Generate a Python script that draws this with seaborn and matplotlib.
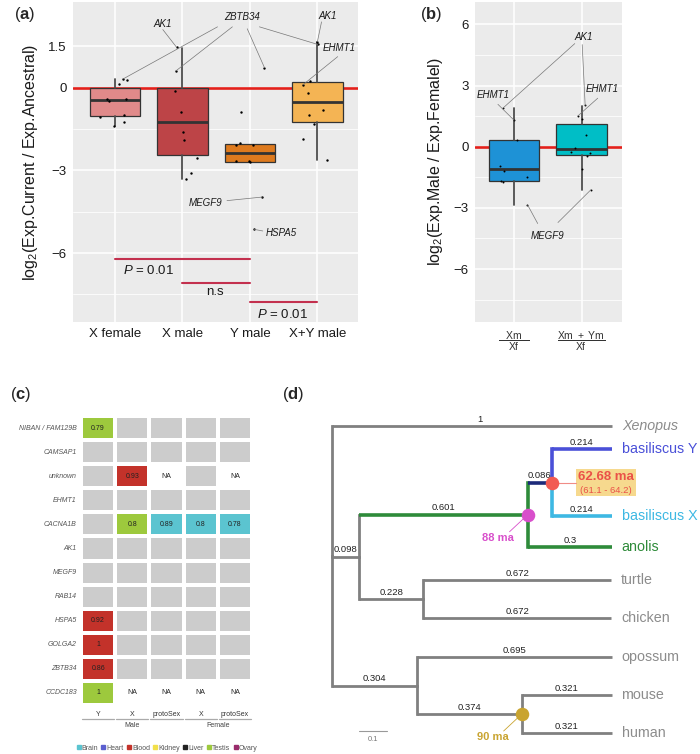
import matplotlib
matplotlib.use("Agg")
import matplotlib.pyplot as plt
from matplotlib.colors import ListedColormap
from matplotlib.lines import Line2D
from matplotlib.patches import Rectangle
import numpy as np
import pandas as pd
import seaborn as sns

# ---------------- panel (a) data ----------------
groups_a = ["X female", "X male", "Y male", "X+Y male"]
colors_a = ["#E08A8A", "#BD4447", "#DE7A1E", "#F4B454"]
pts_xf = [0.12, 0.29, 0.31, -0.43, -0.48, -0.43, -1.07, -0.99, -1.26, -1.41]
pts_xm = [1.46, 0.60, -0.14, -0.89, -1.62, -1.92, -2.57, -3.09, -3.33]
pts_ym = [0.72, -0.87, -2.01, -2.08, -2.08, -2.65, -2.70, -2.68, -3.97, -5.14]
pts_xym = [1.56, 1.66, 0.22, 0.10, -0.20, -0.82, -1.01, -1.32, -1.85, -2.61]
# box stats: whisker low, q1, median, q3, whisker high
box_a = [[-1.41, -1.05, -0.45, -0.03, 0.31],
         [-3.33, -2.43, -1.26, -0.02, 1.44],
         [-2.70, -2.70, -2.37, -2.03, -2.03],
         [-2.61, -1.25, -0.51, 0.19, 1.66]]
# significance bars: (from group, to group, height, text)
sig_a = [(0, 2, -6.2, "$\\mathit{P}$ = 0.01"),
         (1, 2, -7.08, "n.s"),
         (2, 3, -7.79, "$\\mathit{P}$ = 0.01")]

# ---------------- panel (b) data ----------------
groups_b = ["Xm/Xf", "Xm+Ym/Xf"]
ticklabels_b = [r"$\dfrac{\;\;\;\mathrm{Xm}\;\;\;}{\mathrm{Xf}}$",
                r"$\dfrac{\mathrm{Xm\ +\ Ym}}{\mathrm{Xf}}$"]
colors_b = ["#1E92D6", "#00BEC6"]
pts_b1 = [1.90, 1.30, 0.31, -0.94, -1.19, -1.50, -1.67, -1.75, -2.84]
pts_b2 = [2.03, 1.50, 1.38, 0.56, -0.05, -0.24, -0.32, -0.45, -1.10, -2.11]
box_b = [[-2.84, -1.67, -1.07, 0.31, 1.90],
         [-2.13, -0.40, -0.13, 1.12, 2.02]]

# ---------------- panel (c) data ----------------
genes_c = ["NIBAN / FAM129B", "CAMSAP1", "unknown", "EHMT1", "CACNA1B", "AK1",
           "MEGF9", "RAB14", "HSPA5", "GOLGA2", "ZBTB34", "CCDC183"]
cols_c = ["Y", "X", "protoSex", "X", "protoSex"]
tissue_c = [["Testis", "", "", "", ""],
            ["", "", "", "", ""],
            ["", "Blood", "NA", "", "NA"],
            ["", "", "", "", ""],
            ["", "Testis", "Brain", "Brain", "Brain"],
            ["", "", "", "", ""],
            ["", "", "", "", ""],
            ["", "", "", "", ""],
            ["Blood", "", "", "", ""],
            ["Blood", "", "", "", ""],
            ["Blood", "", "", "", ""],
            ["Testis", "NA", "NA", "NA", "NA"]]
value_c = [["0.79", "", "", "", ""],
           ["", "", "", "", ""],
           ["", "0.93", "NA", "", "NA"],
           ["", "", "", "", ""],
           ["", "0.8", "0.89", "0.8", "0.78"],
           ["", "", "", "", ""],
           ["", "", "", "", ""],
           ["", "", "", "", ""],
           ["0.92", "", "", "", ""],
           ["1", "", "", "", ""],
           ["0.86", "", "", "", ""],
           ["1", "NA", "NA", "NA", "NA"]]
legend_tissues = ["Brain", "Heart", "Blood", "Kidney", "Liver", "Testis", "Ovary"]
legend_colors = ["#5BC4D0", "#5B5FCF", "#C3322A", "#F2E04A", "#222222", "#9DC93D", "#9A2C6C"]

# ---------------- panel (d) data ----------------
tree_edges = [("root", "Xenopus", 1.0), ("root", "sauropsids", 0.098),
              ("root", "mammals", 0.304),
              ("sauropsids", "squamates", 0.601), ("sauropsids", "archelosaurs", 0.228),
              ("squamates", "basiliscus", 0.086), ("squamates", "anolis", 0.3),
              ("basiliscus", "basiliscus Y", 0.214), ("basiliscus", "basiliscus X", 0.214),
              ("archelosaurs", "turtle", 0.672), ("archelosaurs", "chicken", 0.672),
              ("mammals", "opossum", 0.695), ("mammals", "eutherians", 0.374),
              ("eutherians", "mouse", 0.321), ("eutherians", "human", 0.321)]
tips = ["Xenopus", "basiliscus Y", "basiliscus X", "anolis", "turtle",
        "chicken", "opossum", "mouse", "human"]
node_dates = {"basiliscus": ("62.68 ma", "(61.1 - 64.2)", "#F25B52"),
              "squamates": ("88 ma", "", "#D84FCB"),
              "eutherians": ("90 ma", "", "#C9A430")}

# ---------------- style ----------------
sns.set_style("white")
plt.rcParams["font.family"] = ["Liberation Sans", "DejaVu Sans"]
plt.rcParams["mathtext.fontset"] = "custom"
plt.rcParams["mathtext.rm"] = "Liberation Sans"
plt.rcParams["mathtext.it"] = "Liberation Sans:italic"
plt.rcParams["mathtext.bf"] = "Liberation Sans:bold"

W, H = 700, 754
fig = plt.figure(figsize=(7, 7.54), dpi=100)


def px_axes(x0, y0, x1, y1):
    return fig.add_axes([x0 / W, 1 - y1 / H, (x1 - x0) / W, (y1 - y0) / H])


def gg_axes(ax, major, minor):
    ax.set_facecolor("#EBEBEB")
    for s in ax.spines.values():
        s.set_visible(False)
    ax.set_yticks(major)
    ax.set_yticks(minor, minor=True)
    ax.grid(True, which="major", color="white", lw=1.1)
    ax.grid(True, which="minor", axis="y", color="white", lw=0.55)
    ax.set_axisbelow(True)
    ax.tick_params(which="major", length=2.5, width=0.7, color="#333333",
                   labelcolor="#1a1a1a", labelsize=9.5, pad=2)
    ax.tick_params(which="minor", length=0)


def draw_boxes(ax, stats, colors):
    bx = [dict(whislo=s[0], q1=s[1], med=s[2], q3=s[3], whishi=s[4]) for s in stats]
    bp = ax.bxp(bx, positions=range(len(bx)), widths=0.75, patch_artist=True,
                showfliers=False, showcaps=False,
                boxprops=dict(edgecolor="#333333", lw=0.9),
                medianprops=dict(color="#333333", lw=2.0),
                whiskerprops=dict(color="#4d4d4d", lw=1.3), zorder=2)
    for patch, c in zip(bp["boxes"], colors):
        patch.set_facecolor(c)


def points_frame(groups, series, seed):
    rng = np.random.default_rng(seed)
    rows = []
    for i, (g, vals) in enumerate(zip(groups, series)):
        for k, v in enumerate(vals):
            rows.append(dict(group=g, idx=k, value=v, x=i + rng.uniform(-0.22, 0.22)))
    return pd.DataFrame(rows)


def gene_labels(ax, df, labels):
    for text, tx, ty, links in labels:
        ax.text(tx, ty, text, style="italic", fontsize=7, ha="center", va="center",
                color="#1a1a1a", zorder=5)
        for grp, idx, sx, sy in links:
            p = df[(df.group == grp) & (df.idx == idx)].iloc[0]
            ax.plot([sx, p.x], [sy, p.value], color="#777777", lw=0.5, zorder=4)


# ---------------- panel (a) ----------------
ax_a = px_axes(73, 2, 358, 322)
gg_axes(ax_a, [1.5, 0, -3, -6], [-1.5, -4.5, -7.5])
ax_a.axhline(0, color="#E3201B", lw=1.9, zorder=1.5)
draw_boxes(ax_a, box_a, colors_a)
df_a = points_frame(groups_a, [pts_xf, pts_xm, pts_ym, pts_xym], seed=7)
sns.scatterplot(data=df_a, x="x", y="value", color="black", s=3, linewidth=0,
                ax=ax_a, legend=False, zorder=3)
for g0, g1, h, txt in sig_a:
    ax_a.plot([g0, g1], [h, h], color="#C3304E", lw=1.5)
for (g0, g1, h, txt), (tx, ha, dy) in zip(sig_a, [(0.12, "left", -0.42),
                                                   (1.48, "center", -0.32),
                                                   (2.11, "left", -0.42)]):
    ax_a.text(tx, h + dy, txt, ha=ha, va="center", fontsize=9.5, color="#1a1a1a")
gene_labels(ax_a, df_a, [
    ("AK1", 0.71, 2.31, [("X male", 0, 0.71, 2.1)]),
    ("ZBTB34", 1.89, 2.56, [("X female", 2, 1.52, 2.2), ("X male", 1, 1.74, 2.2),
                            ("Y male", 0, 1.96, 2.13), ("X+Y male", 0, 2.14, 2.2)]),
    ("AK1", 3.15, 2.6, [("X+Y male", 1, 3.06, 2.38)]),
    ("EHMT1", 3.32, 1.44, [("X+Y male", 3, 3.3, 1.12)]),
    ("MEGF9", 1.34, -4.19, [("Y male", 8, 1.66, -4.1)]),
    ("HSPA5", 2.47, -5.27, [("Y male", 9, 2.19, -5.2)]),
])
ax_a.set_xlim(-0.62, 3.6)
ax_a.set_ylim(-8.5, 3.1)
ax_a.set_xticks(range(4))
ax_a.set_xticklabels(groups_a)
ax_a.set_yticklabels(["1.5", "0", "\u22123", "\u22126"])
ax_a.set_xlabel("")
ax_a.set_ylabel("log$_2$(Exp.Current / Exp.Ancestral)", fontsize=11.5, labelpad=6,
                color="#1a1a1a")

# ---------------- panel (b) ----------------
ax_b = px_axes(475, 2, 622, 322)
gg_axes(ax_b, [6, 3, 0, -3, -6], [4.5, 1.5, -1.5, -4.5, -7.5])
ax_b.axhline(0, color="#E3201B", lw=1.9, zorder=1.5)
draw_boxes(ax_b, box_b, colors_b)
df_b = points_frame(groups_b, [pts_b1, pts_b2], seed=11)
sns.scatterplot(data=df_b, x="x", y="value", color="black", s=2, linewidth=0,
                ax=ax_b, legend=False, zorder=3)
gene_labels(ax_b, df_b, [
    ("EHMT1", -0.31, 2.52, [("Xm/Xf", 1, -0.24, 2.08)]),
    ("AK1", 1.03, 5.4, [("Xm/Xf", 0, 0.9, 5.06), ("Xm+Ym/Xf", 0, 1.01, 5.01)]),
    ("EHMT1", 1.31, 2.81, [("Xm+Ym/Xf", 1, 1.24, 2.38)]),
    ("MEGF9", 0.5, -4.36, [("Xm/Xf", 8, 0.35, -3.77), ("Xm+Ym/Xf", 9, 0.65, -3.72)]),
])
ax_b.set_xlim(-0.58, 1.6)
ax_b.set_ylim(-8.6, 7.1)
ax_b.set_xticks(range(2))
ax_b.set_xticklabels(ticklabels_b, fontsize=7.5, color="#333333")
ax_b.tick_params(axis="x", pad=3)
ax_b.set_yticklabels(["6", "3", "0", "\u22123", "\u22126"])
ax_b.set_xlabel("")
ax_b.set_ylabel("log$_2$(Exp.Male / Exp.Femalel)", fontsize=11.5, labelpad=6,
                color="#1a1a1a")

# ---------------- panel (c) ----------------
ax_c = px_axes(81, 416, 252, 705)
code_of = {"": 0, "Brain": 1, "Blood": 2, "Testis": 3, "NA": 4}
cmap_c = ListedColormap(["#CCCCCC", "#5BC4D0", "#C3322A", "#9DC93D", "white"])
codes = pd.DataFrame([[code_of[t] for t in row] for row in tissue_c],
                     index=genes_c, columns=range(len(cols_c)))
sns.heatmap(codes, cmap=cmap_c, vmin=-0.5, vmax=4.5, annot=np.array(value_c),
            fmt="", linewidths=1.6, linecolor="white", cbar=False, ax=ax_c,
            annot_kws=dict(size=5, color="#222222"))
ax_c.set_xticklabels(cols_c, rotation=0, fontsize=5, color="#333333")
ax_c.set_yticklabels(genes_c, rotation=0, fontsize=5, color="#555555", style="italic")
ax_c.tick_params(axis="both", length=0)
ax_c.tick_params(axis="x", pad=4)
ax_c.tick_params(axis="y", pad=3)
ax_c.set_xlabel("")
ax_c.set_ylabel("")
for j in range(len(cols_c)):
    ax_c.plot([j + 0.03, j + 0.97], [12.58, 12.58], color="#AAAAAA", lw=0.9,
              clip_on=False)
ax_c.text(1.5, 12.85, "Male", ha="center", va="center", fontsize=5, color="#444444")
ax_c.text(4.0, 12.85, "Female", ha="center", va="center", fontsize=5, color="#444444")
handles = [Line2D([], [], marker="s", ls="", color=c, markersize=2.6, label=t)
           for t, c in zip(legend_tissues, legend_colors)]
leg = fig.legend(handles=handles, loc="center", bbox_to_anchor=(167 / W, 1 - 748 / H),
                 ncol=7, frameon=False, fontsize=5, handletextpad=0.15,
                 columnspacing=0.45, handlelength=0.6, borderpad=0)
for t in leg.get_texts():
    t.set_color("#555555")

# ---------------- panel (d) ----------------
ax_d = px_axes(320, 400, 700, 754)
ax_d.set_xlim(-12 / 280, 368 / 280)
ax_d.set_ylim(754, 400)
ax_d.axis("off")
tip_rows = [426, 449, 516, 547, 580, 618, 657, 695, 733]  # layout rows of tips

node_x = {"root": 0.0}
for parent, child, bl in tree_edges:
    node_x[child] = node_x[parent] + bl
node_y = dict(zip(tips, tip_rows))
for parent, child, bl in reversed(tree_edges):
    kids = [node_y[c] for p, c, b in tree_edges if p == parent and c in node_y]
    if len(kids) == len([c for p, c, b in tree_edges if p == parent]):
        node_y[parent] = (min(kids) + max(kids)) / 2
node_y["root"] = (node_y["Xenopus"] + node_y["mammals"]) / 2

GRAY = "#808080"
BLUE, LBLUE, NAVY, GREEN = "#4A50D8", "#3DB8E3", "#1C2A7A", "#2E8B3A"
edge_col = {"basiliscus Y": (BLUE, BLUE), "basiliscus X": (LBLUE, LBLUE),
            "basiliscus": (NAVY, GREEN), "anolis": (GREEN, GREEN),
            "squamates": (GREEN, GRAY)}
for parent, child, bl in tree_edges:
    hcol, vcol = edge_col.get(child, (GRAY, GRAY))
    lw = 2.0 if hcol == GRAY else 2.6
    px, py, cx, cy = node_x[parent], node_y[parent], node_x[child], node_y[child]
    ax_d.plot([px, px], [py, cy], color=vcol, lw=2.0 if vcol == GRAY else 2.6,
              solid_capstyle="projecting")
    ax_d.plot([px, cx], [cy, cy], color=hcol, lw=lw, solid_capstyle="butt")
    ax_d.text((px + cx) / 2 + (0.03 if bl == 1.0 else 0), cy - 7, f"{bl:g}",
              ha="center", va="center", fontsize=6.8, color="#222222")

tip_col = {"basiliscus Y": BLUE, "basiliscus X": LBLUE, "anolis": GREEN}
for t in tips:
    ax_d.text(node_x[t] + 0.035, node_y[t], t, ha="left", va="center", fontsize=10.3,
              color=tip_col.get(t, "#8C8C8C"),
              style="italic" if t == "Xenopus" else "normal")

for node, (lab, sub, c) in node_dates.items():
    nx, ny = node_x[node], node_y[node]
    ax_d.scatter([nx], [ny], s=95, color=c, zorder=5, linewidths=0)
    if sub:
        ax_d.add_patch(Rectangle((0.870, 469), 0.216, 27, facecolor="#F6D98E",
                                 edgecolor="none", zorder=3))
        ax_d.plot([nx, 0.870], [ny, ny], color="#F08C86", lw=0.8, zorder=4)
        ax_d.text(0.978, 477, lab, ha="center", va="center", fontsize=9.5,
                  fontweight="bold", color="#EA5148", zorder=4)
        ax_d.text(0.978, 490, sub, ha="center", va="center", fontsize=6.8,
                  color="#EA5148", zorder=4)
    else:
        ax_d.plot([nx, nx - 0.065], [ny, ny + 17], color=c, lw=0.6, zorder=4)
        ax_d.text(nx - 0.105, ny + 23, lab, ha="center", va="center", fontsize=8,
                  fontweight="bold", color=c)

ax_d.plot([0.096, 0.196], [731, 731], color="#999999", lw=0.8)
ax_d.text(0.146, 739, "0.1", ha="center", va="center", fontsize=5.5, color="#777777")

# ---------------- panel letters ----------------
for x, y, letter in [(14, 14, "a"), (420, 14, "b"), (10, 394, "c"), (282, 394, "d")]:
    fig.text(x / W, 1 - y / H, f"($\\mathbf{{{letter}}}$)", fontsize=12,
             ha="left", va="center")

fig.savefig("out.png", dpi=100)
